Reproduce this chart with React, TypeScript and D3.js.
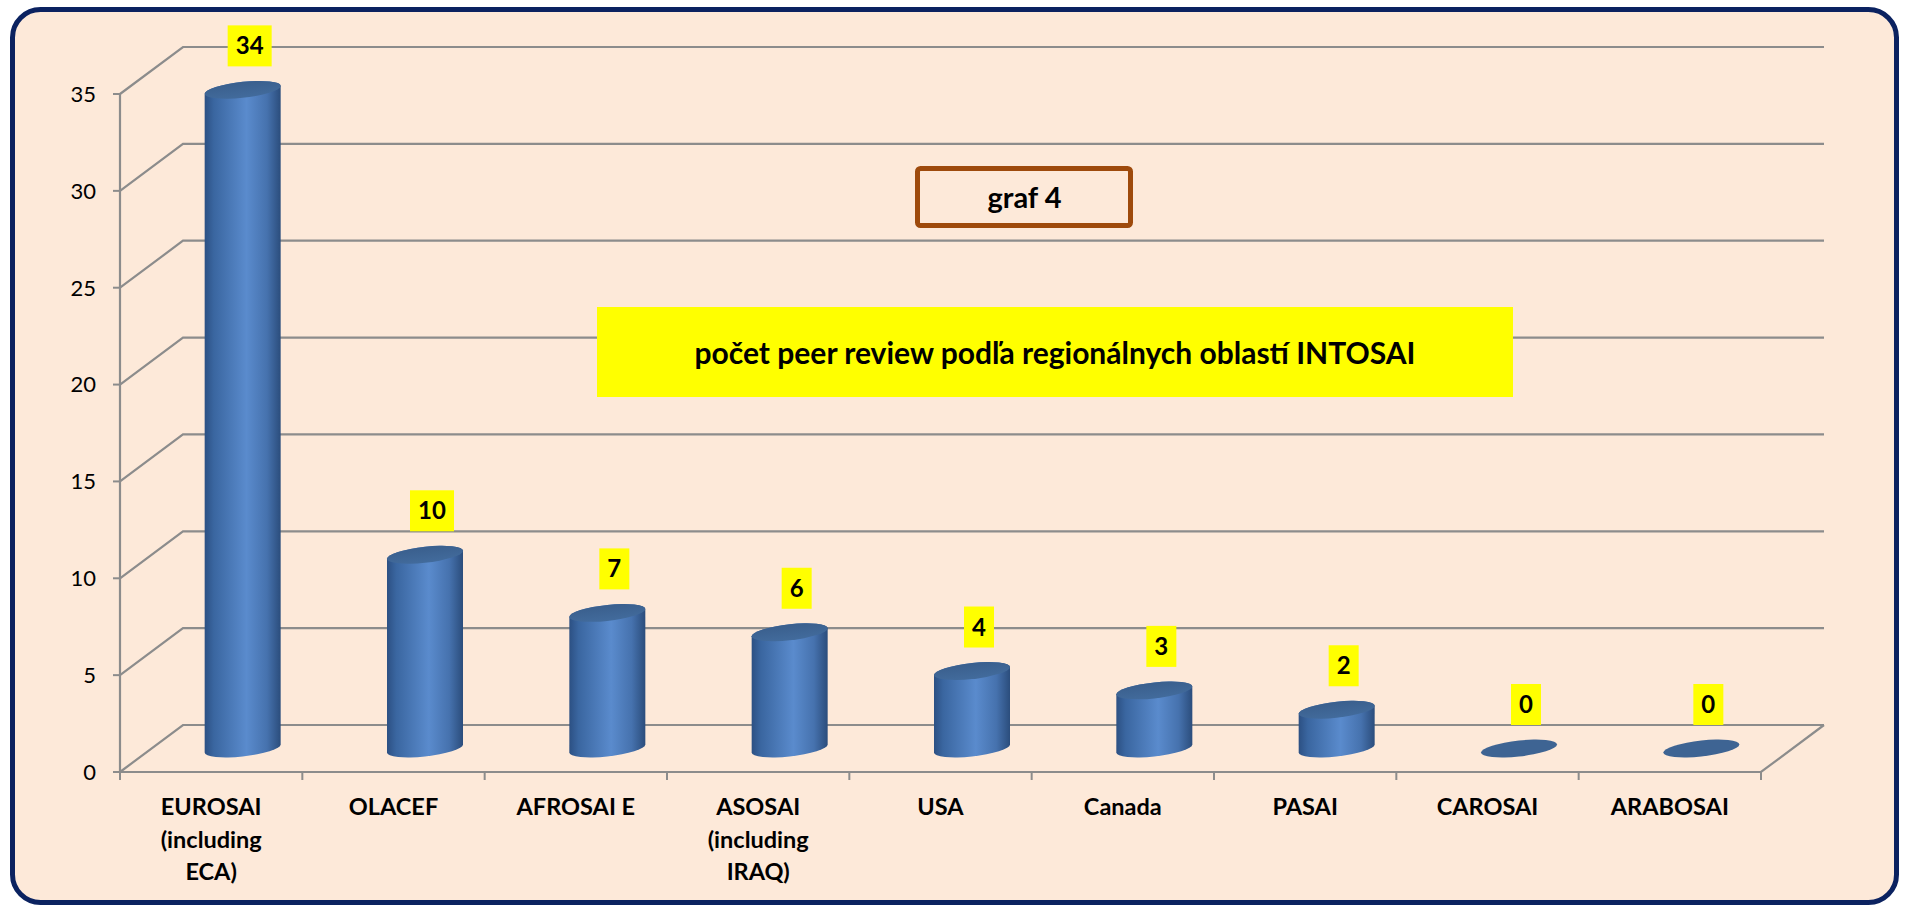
import React from "react";
import * as d3 from "d3";

const categories = ["EUROSAI (including ECA)", "OLACEF", "AFROSAI E", "ASOSAI (including IRAQ)", "USA", "Canada", "PASAI", "CAROSAI", "ARABOSAI"];
const categoryLines = [["EUROSAI", "(including", "ECA)"], ["OLACEF"], ["AFROSAI E"], ["ASOSAI", "(including", "IRAQ)"], ["USA"], ["Canada"], ["PASAI"], ["CAROSAI"], ["ARABOSAI"]];
const values = [34, 10, 7, 6, 4, 3, 2, 0, 0];
const yTicks = [0, 5, 10, 15, 20, 25, 30, 35];
const chartTitle = "počet peer review podľa regionálnych oblastí INTOSAI";
const chartTag = "graf 4";

const W = 1905;
const H = 906;
const FONT = "Lato, 'Open Sans', sans-serif";
const DX = 63;
const DY = -47;
const RX = 38;
const RY = 8;
const SKEW = -6;
const GRID = "#8c8c8c";

export default function App() {
  const x = d3.scaleBand<string>().domain(categories).range([120, 1761]).paddingInner(0).paddingOuter(0);
  const y = d3.scaleLinear().domain([0, 35]).range([772, 94]);
  const x0 = 120;
  const x1 = 1761;
  const y0 = y(0);

  return (
    <svg width={W} height={H} style={{ position: "absolute", left: 0, top: 0, display: "block" }} fontFamily={FONT}>
      <defs>
        <linearGradient id="cyl" x1="0" y1="0" x2="1" y2="0">
          <stop offset="0%" stopColor="#2c5083" />
          <stop offset="12%" stopColor="#3a66a0" />
          <stop offset="55%" stopColor="#5a8bcd" />
          <stop offset="82%" stopColor="#4672ae" />
          <stop offset="100%" stopColor="#2b4d7c" />
        </linearGradient>
        <linearGradient id="cap" x1="0" y1="0" x2="0" y2="1">
          <stop offset="0%" stopColor="#3a5f8d" />
          <stop offset="100%" stopColor="#426b9c" />
        </linearGradient>
      </defs>
      <rect x={12.5} y={9.5} width={1884} height={893} rx={28} ry={28} fill="#fde9d9" stroke="#0b2260" strokeWidth={5} />

      {/* gridlines */}
      {yTicks.map((t) => (
        <g key={t}>
          <polyline
            points={`${x0},${y(t)} ${x0 + DX},${y(t) + DY} ${x1 + DX},${y(t) + DY}`}
            fill="none"
            stroke={GRID}
            strokeWidth={2.2}
          />
          <line x1={x0 - 7} x2={x0} y1={y(t)} y2={y(t)} stroke={GRID} strokeWidth={2} />
          <text x={96} y={y(t)} dy="0.36em" textAnchor="end" fontSize={22} fill="#000">
            {t}
          </text>
        </g>
      ))}
      {/* floor */}
      <polyline points={`${x0},${y0} ${x1},${y0} ${x1 + DX},${y0 + DY}`} fill="none" stroke={GRID} strokeWidth={2.2} />
      <line x1={x0} x2={x0} y1={y(35)} y2={y0} stroke={GRID} strokeWidth={2.2} />
      {d3.range(categories.length + 1).map((i) => {
        const tx = x0 + i * x.bandwidth();
        return <line key={i} x1={tx} x2={tx} y1={y0} y2={y0 + 8} stroke={GRID} strokeWidth={2} />;
      })}

      {/* title boxes */}
      <rect x={917.5} y={168.5} width={213} height={57} rx={3} fill="#fde9d9" stroke="#9e4a0c" strokeWidth={5} />
      <text x={1024.5} y={207.5} textAnchor="middle" fontSize={29} fontWeight="bold" fill="#000">
        {chartTag}
      </text>
      <rect x={597} y={307} width={916} height={90} fill="#ffff00" />
      <text x={1055} y={364} textAnchor="middle" fontSize={30} fontWeight="bold" fill="#000">
        {chartTitle}
      </text>

      {/* cylinders */}
      {categories.map((c, i) => {
        const cx = (x(c) as number) + x.bandwidth() / 2 + DX / 2;
        const yTop = y(values[i]) + DY / 2;
        const yBot = y(0) + DY / 2;
        const body = `M ${-RX} ${yTop} L ${-RX} ${yBot} A ${RX} ${RY} 0 0 0 ${RX} ${yBot} L ${RX} ${yTop} A ${RX} ${RY} 0 0 0 ${-RX} ${yTop} Z`;
        return (
          <g key={c} transform={`translate(${cx},0) skewY(${SKEW})`}>
            {values[i] > 0 && <path d={body} fill="url(#cyl)" />}
            <ellipse cx={0} cy={yTop} rx={RX} ry={RY} fill={values[i] > 0 ? "url(#cap)" : "#3e6493"} />
          </g>
        );
      })}

      {/* data labels */}
      {categories.map((c, i) => {
        const cx = (x(c) as number) + x.bandwidth() / 2 + DX / 2 + 7;
        const cy = y(values[i]) + DY / 2 - 44;
        const label = String(values[i]);
        const w = 16 + 14 * label.length;
        return (
          <g key={c}>
            <rect x={cx - w / 2} y={cy - 20.5} width={w} height={41} fill="#ffff00" />
            <text x={cx} y={cy + 8.5} textAnchor="middle" fontSize={24} fontWeight="bold" fill="#000">
              {label}
            </text>
          </g>
        );
      })}

      {/* category labels */}
      {categories.map((c, i) => {
        const cx = (x(c) as number) + x.bandwidth() / 2;
        return (
          <text key={c} textAnchor="middle" fontSize={23.5} fontWeight="bold" fill="#000">
            {categoryLines[i].map((ln, j) => (
              <tspan key={j} x={cx} y={815 + j * 32.5}>
                {ln}
              </tspan>
            ))}
          </text>
        );
      })}
    </svg>
  );
}
